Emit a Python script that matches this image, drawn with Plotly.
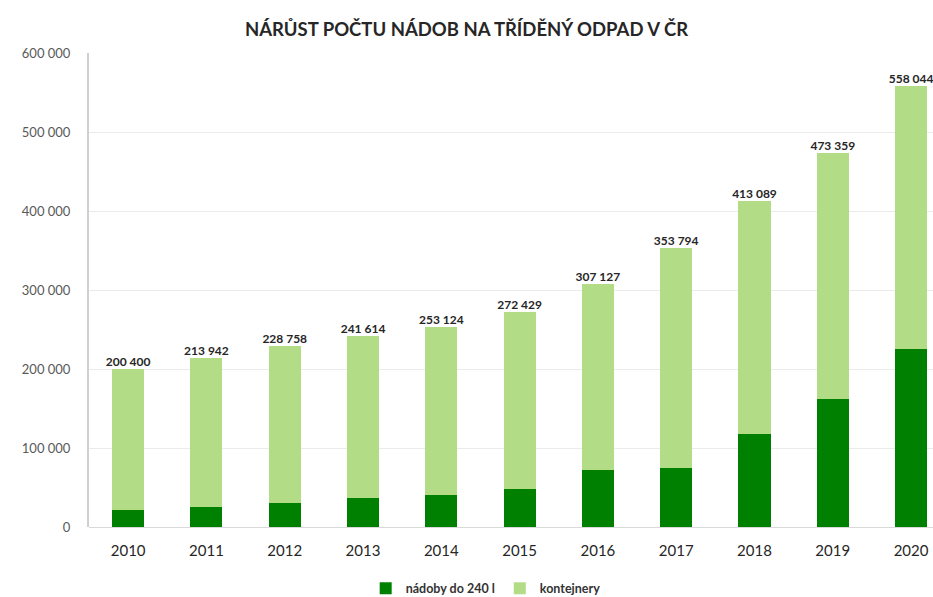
import plotly.graph_objects as go

years = ["2010", "2011", "2012", "2013", "2014", "2015", "2016", "2017", "2018", "2019", "2020"]
totals = [200400, 213942, 228758, 241614, 253124, 272429, 307127, 353794, 413089, 473359, 558044]
nadoby = [21500, 25000, 30500, 37000, 41000, 47700, 72000, 74300, 117700, 161600, 225000]
kontejnery = [t - n for t, n in zip(totals, nadoby)]
y_ticks = [0, 100000, 200000, 300000, 400000, 500000, 600000]

def fmt(v):
    return f"{v:,}".replace(",", " ")

fig = go.Figure()
fig.add_trace(go.Bar(x=years, y=nadoby, name="nádoby do 240 l",
                     marker=dict(color="#008000", line=dict(width=0))))
fig.add_trace(go.Bar(x=years, y=kontejnery, name="kontejnery",
                     marker=dict(color="#B3DC87", line=dict(width=0))))
fig.add_trace(go.Scatter(x=years, y=totals, mode="text", text=[fmt(t) for t in totals],
                         textposition="top center", showlegend=False, hoverinfo="skip",
                         cliponaxis=False,
                         textfont=dict(family="Lato", size=12, color="#262626", weight="bold")))

fig.update_layout(
    width=933, height=597,
    barmode="stack", bargap=0.59,
    plot_bgcolor="white", paper_bgcolor="white",
    margin=dict(l=89, r=0, t=53, b=70, autoexpand=False),
    font=dict(family="Lato", color="#404040"),
    title=dict(text="NÁRŮST POČTU NÁDOB NA TŘÍDĚNÝ ODPAD V ČR", x=0.5, xref="container", xanchor="center",
               y=1 - 30 / 597, yref="container", yanchor="middle", automargin=False,
               font=dict(family="Lato", size=18.5, color="#262626", weight="bold")),
    legend=dict(orientation="h", x=0.47, xanchor="center", y=-0.13, yanchor="middle",
                font=dict(family="Lato", size=12.5, color="#333333", weight="bold"),
                traceorder="normal", itemsizing="constant", itemwidth=30),
    showlegend=True,
)
fig.update_xaxes(type="category", range=[-0.5, 10.28], showgrid=False, showline=False,
                 ticks="", tickfont=dict(family="Lato", size=15, color="#262626"),
                 ticklabelstandoff=13, automargin=False)
fig.update_yaxes(range=[0, 600000], tickvals=y_ticks, ticktext=[fmt(v) for v in y_ticks],
                 showgrid=True, gridcolor="#EBEBEB", gridwidth=1,
                 showline=True, linecolor="#D0D0D0", linewidth=2,
                 zeroline=True, zerolinecolor="#D9D9D9", zerolinewidth=1,
                 tickfont=dict(family="Lato", size=13, color="#595959"),
                 ticklabelstandoff=14, automargin=False)

fig.write_html("out.html", config={"displayModeBar": False},
               post_script="document.body.style.margin='0';document.body.style.overflow='hidden';")
